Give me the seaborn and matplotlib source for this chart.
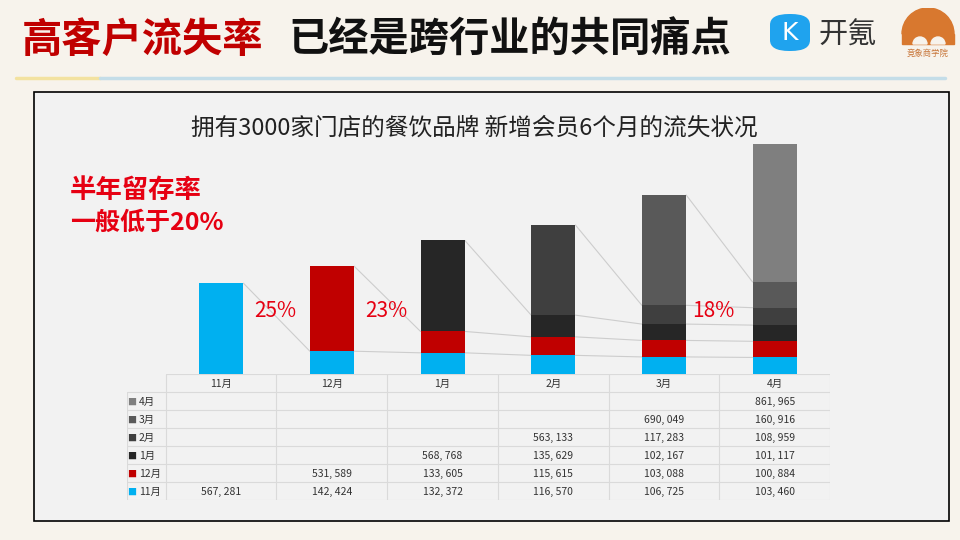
import numpy as np
import pandas as pd
import seaborn as sns
import matplotlib.pyplot as plt
from matplotlib.patches import Rectangle, FancyBboxPatch, Wedge

# month on the x axis
months = ['11月', '12月', '1月', '2月', '3月', '4月']

# members acquired in a given month, still active in each month
cohort_11 = [567281, 142424, 132372, 116570, 106725, 103460]
cohort_12 = [np.nan, 531589, 133605, 115615, 103088, 100884]
cohort_1 = [np.nan, np.nan, 568768, 135629, 102167, 101117]
cohort_2 = [np.nan, np.nan, np.nan, 563133, 117283, 108959]
cohort_3 = [np.nan, np.nan, np.nan, np.nan, 690049, 160916]
cohort_4 = [np.nan, np.nan, np.nan, np.nan, np.nan, 861965]

cohort_names = ['11月', '12月', '1月', '2月', '3月', '4月']
cohort_colors = ['#00b0f0', '#c00000', '#262626', '#3f3f3f', '#595959', '#7f7f7f']

retention_labels = ['25%', '23%', '18%']
retention_x = [0.49, 1.49, 4.45]

cohorts = [cohort_11, cohort_12, cohort_1, cohort_2, cohort_3, cohort_4]

sns.set_theme(style='white')
plt.rcParams['font.family'] = ['Noto Sans CJK SC', 'DejaVu Sans']

W, H = 960, 540
fig = plt.figure(figsize=(9.6, 5.4), dpi=100)
fig.patch.set_facecolor('#f7f3ec')


def box(x0, y0, x1, y1):
    # pixel box (top-left origin) -> figure fraction rect
    return [x0 / W, 1 - y1 / H, (x1 - x0) / W, (y1 - y0) / H]


def fx(x):
    return x / W


def fy(y):
    return 1 - y / H


# ---- header ----
fig.text(fx(22), fy(40), '高客户流失率', color='#c00000', fontsize=29, fontweight='bold', va='center', ha='left')
fig.text(fx(288), fy(40), '已经是跨行业的共同痛点', color='#111111', fontsize=29, fontweight='bold',
         va='center', ha='left')
fig.add_artist(plt.Line2D([fx(16), fx(100)], [fy(78), fy(78)], color='#f3e2a0', lw=2.5))
fig.add_artist(plt.Line2D([fx(100), fx(945)], [fy(78), fy(78)], color='#c4dde8', lw=2.5))

# logos (approximate)
fig.add_artist(FancyBboxPatch((fx(770), fy(51)), fx(40), 37 / H, boxstyle='round,pad=0,rounding_size=0.02',
                              transform=fig.transFigure, facecolor='#1fa3ee', edgecolor='none'))
fig.text(fx(790), fy(33), 'K', color='white', fontsize=18, ha='center', va='center', family='DejaVu Sans')
fig.text(fx(818), fy(36), '开氪', color='#333333', fontsize=21, ha='left', va='center')
logo_ax = fig.add_axes(box(898, 8, 958, 48))
logo_ax.set_xlim(0, 60)
logo_ax.set_ylim(0, 40)
logo_ax.set_aspect('equal')
logo_ax.axis('off')
logo_ax.add_patch(Wedge((30, 14), 26, 0, 180, color='#d8782f'))
logo_ax.add_patch(Rectangle((4, 4), 52, 10, color='#d8782f'))
logo_ax.add_patch(Wedge((22, 4), 7, 0, 180, color='#f7f3ec'))
logo_ax.add_patch(Wedge((40, 4), 7, 0, 180, color='#f7f3ec'))
fig.text(fx(928), fy(53), '竞象商学院', color='#c8763a', fontsize=6, ha='center', va='center')

# ---- chart panel ----
fig.add_artist(Rectangle((fx(34), fy(521)), (949 - 34) / W, (521 - 92) / H, transform=fig.transFigure,
                         facecolor='#f2f2f2', edgecolor='black', lw=1.2, zorder=0))
fig.text(fx(474), fy(128), '拥有3000家门店的餐饮品牌 新增会员6个月的流失状况', color='#222222',
         fontsize=17, ha='center', va='center')
fig.text(fx(70), fy(190), '半年留存率', color='#e60012', fontsize=19, fontweight='bold', va='center')
fig.text(fx(70), fy(223), '一般低于20%', color='#e60012', fontsize=18, fontweight='bold', va='center')

# ---- stacked bars ----
ax = fig.add_axes(box(166, 134, 830, 374))
ax.patch.set_alpha(0)
values = np.nan_to_num(np.array(cohorts, dtype=float))
cum = np.cumsum(values, axis=0)
for k in range(len(cohorts) - 1, -1, -1):
    df = pd.DataFrame({'month': months, 'total': cum[k]})
    sns.barplot(data=df, x='month', y='total', order=months, color=cohort_colors[k],
                saturation=1, width=0.4, ax=ax, zorder=3, linewidth=0)

# series lines between bars
half = 0.2
for k, c in enumerate(cohorts):
    for i in range(len(months) - 1):
        if not np.isnan(c[i]) and not np.isnan(c[i + 1]):
            ax.plot([i + half, i + 1 - half], [cum[k][i], cum[k][i + 1]], color='#cdcdcd', lw=0.8, zorder=2)

for lab, x in zip(retention_labels, retention_x):
    ax.text(x, 395000, lab, color='#e60012', fontsize=15, ha='center', va='center')

ax.set_xlim(-0.5, 5.5)
ax.set_ylim(0, 1.5e6)
ax.axis('off')

# ---- data table ----
tab = fig.add_axes(box(127, 374, 830, 500))
tab.set_xlim(-0.85, 5.5)
tab.set_ylim(7, 0)
tab.axis('off')
grid = '#dadada'
tab.plot([-0.5, 5.5], [0, 0], color=grid, lw=0.8)
for r in range(1, 8):
    tab.plot([-0.85, 5.5], [r, r], color=grid, lw=0.8)
tab.plot([-0.85, -0.85], [1, 7], color=grid, lw=0.8)
for c in range(7):
    tab.plot([c - 0.5, c - 0.5], [0, 7], color=grid, lw=0.8)
for i, m in enumerate(months):
    tab.text(i, 0.55, m, ha='center', va='center', fontsize=7.5, color='#333333')
for r in range(6):
    k = 5 - r
    y = r + 1.55
    tab.text(-0.845, y, '■', color=cohort_colors[k], fontsize=6.5, ha='left', va='center')
    tab.text(-0.745, y, cohort_names[k], color='#333333', fontsize=7.5, ha='left', va='center')
    for i, v in enumerate(cohorts[k]):
        if not np.isnan(v):
            tab.text(i, y, f'{int(v):,}'.replace(',', ', '), ha='center', va='center',
                     fontsize=7.5, color='#333333')

fig.savefig('out.png', dpi=100, facecolor=fig.get_facecolor())
